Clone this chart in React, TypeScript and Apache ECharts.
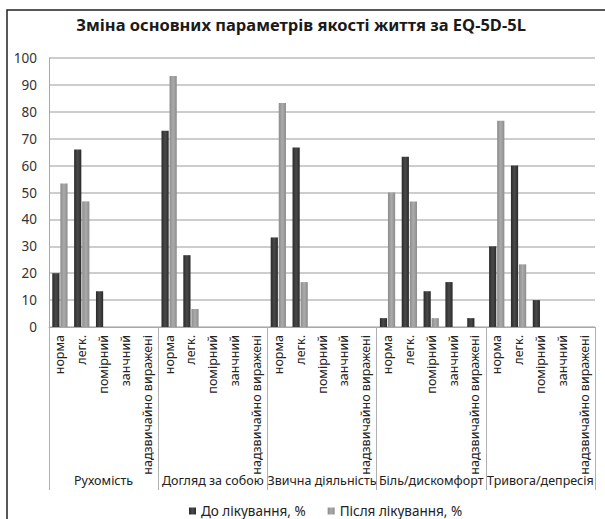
import React, { useEffect, useRef } from "react";
import * as echarts from "echarts";

const titleText = "Зміна основних параметрів якості життя за EQ-5D-5L";
const groups = ["Рухомість", "Догляд за собою", "Звична діяльність", "Біль/дискомфорт", "Тривога/депресія"];
const levels = ["норма", "легк.", "помірний", "занчний", "надзвичайно виражені"];
const seriesNames = ["До лікування, %", "Після лікування, %"];
const beforeValues = [
  20, 66, 13.3, 0, 0,
  73, 26.7, 0, 0, 0,
  33.3, 66.7, 0, 0, 0,
  3.3, 63.3, 13.3, 16.7, 3.3,
  30, 60, 10, 0, 0,
];
const afterValues = [
  53.3, 46.7, 0, 0, 0,
  93.3, 6.7, 0, 0, 0,
  83.3, 16.7, 0, 0, 0,
  50, 46.7, 3.3, 0, 0,
  76.7, 23.3, 0, 0, 0,
];
const yTicks = { min: 0, max: 100, interval: 10 };

const FONT = "Noto Sans";

export default function App() {
  const ref = useRef<HTMLDivElement>(null);
  useEffect(() => {
    document.body.style.margin = "0";
    if (!ref.current) return;
    const chart = echarts.init(ref.current, null, { renderer: "svg" });
    const categories: string[] = [];
    groups.forEach((g, gi) => levels.forEach((l) => categories.push(gi + "|" + l)));
    const grad = (a: string, b: string) =>
      new echarts.graphic.LinearGradient(0, 0, 1, 0, [
        { offset: 0, color: a },
        { offset: 0.5, color: b },
        { offset: 1, color: a },
      ]);
    chart.setOption({
      animation: false,
      backgroundColor: "#ffffff",
      textStyle: { fontFamily: FONT },
      title: {
        text: titleText,
        left: 296,
        textAlign: "center",
        top: 11,
        textStyle: { fontFamily: FONT, fontSize: 16.5, fontWeight: "bold", color: "#1a1a1a" },
      },
      graphic: [
        {
          type: "rect",
          shape: { x: 7, y: 10, width: 620, height: 540 },
          style: { fill: "none", stroke: "#222", lineWidth: 1.5 },
          silent: true,
        },
      ],
      legend: {
        data: seriesNames,
        left: 184,
        top: 499,
        icon: "rect",
        itemWidth: 7,
        itemHeight: 7,
        itemGap: 22,
        textStyle: { fontFamily: FONT, fontSize: 13.5, color: "#222" },
      },
      grid: { left: 49, right: 10, top: 58, bottom: 192 },
      xAxis: [
        {
          type: "category",
          data: categories,
          axisLine: { show: true, lineStyle: { color: "#a8a8a8", width: 1 } },
          axisTick: { show: false },
          axisLabel: {
            interval: 0,
            rotate: 90,
            margin: 8,
            fontFamily: FONT,
            fontSize: 12.5,
            color: "#222",
            formatter: (v: string) => v.split("|")[1],
          },
        },
        {
          type: "category",
          data: groups,
          position: "bottom",
          offset: 0,
          axisLine: { show: false },
          axisTick: { show: true, length: 163, lineStyle: { color: "#b0b0b0", width: 1 } },
          axisLabel: {
            interval: 0,
            margin: 147,
            fontFamily: FONT,
            fontSize: 12.5,
            color: "#222",
          },
          splitLine: { show: false },
        },
      ],
      yAxis: {
        type: "value",
        min: yTicks.min,
        max: yTicks.max,
        interval: yTicks.interval,
        axisLine: { show: true, lineStyle: { color: "#a8a8a8" } },
        axisTick: { show: false },
        axisLabel: { margin: 12, fontFamily: FONT, fontSize: 13.5, color: "#333" },
        splitLine: { lineStyle: { color: "#bdbdbd", width: 1.6 } },
      },
      series: [
        {
          name: seriesNames[0],
          type: "bar",
          data: beforeValues,
          barCategoryGap: "30%",
          barGap: "12%",
          itemStyle: { color: grad("#2a2a2a", "#4a4a4a") },
        },
        {
          name: seriesNames[1],
          type: "bar",
          data: afterValues,
          barCategoryGap: "30%",
          barGap: "12%",
          itemStyle: { color: grad("#8c8c8c", "#ababab") },
        },
      ],
    });
    return () => chart.dispose();
  }, []);
  return <div ref={ref} style={{ width: 605, height: 519 }} />;
}
